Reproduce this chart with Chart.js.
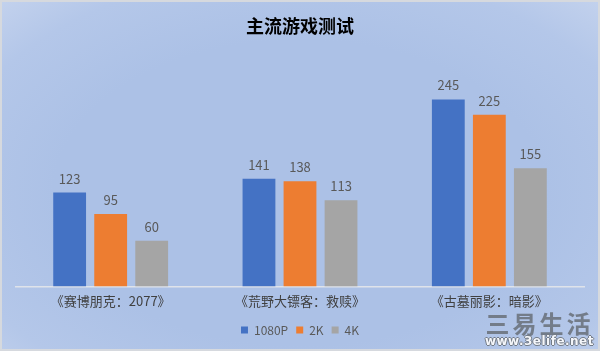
<!DOCTYPE html>
<html>
<head>
<meta charset="utf-8">
<script src="https://cdn.jsdelivr.net/npm/chart.js@4"></script>
<style>
  html, body { margin: 0; padding: 0; }
  #wrap {
    position: relative;
    width: 600px; height: 351px;
    box-sizing: border-box;
    border: 2px solid #d6d9de;
    background: radial-gradient(ellipse 75% 80% at 50% 55%, #acc1e6 55%, #b4c7e9 80%, #c6d4ee 100%);
  }
  #mark {
    position: absolute; right: 4px; bottom: 1px;
    text-align: center; font-family: "DejaVu Sans", sans-serif;
  }
  #mark .cn { font-family: "Noto Sans CJK SC"; font-size: 24px; font-weight: bold; color: #737c89; letter-spacing: 3px; line-height: 24px; }
  #mark .en { font-size: 12px; font-weight: bold; color: #f4f6fa; line-height: 13px; letter-spacing: 0.5px;
    text-shadow: -1px 0 #737b86, 1px 0 #737b86, 0 -1px #737b86, 0 1px #737b86; }
</style>
</head>
<body>
<div id="wrap">
  <canvas id="chart" width="596" height="347"></canvas>
  <div id="mark"><div class="cn">三易生活</div><div class="en">www.3elife.net</div></div>
</div>
<script>
// chart data
var games = ['《赛博朋克：2077》', '《荒野大镖客：救赎》', '《古墓丽影：暗影》'];
var fps1080p = [123, 141, 245];
var fps2k = [95, 138, 225];
var fps4k = [60, 113, 155];
var seriesNames = ['1080P', '2K', '4K'];
var seriesColors = ['#4472C4', '#ED7D31', '#A5A5A5'];

var font = '"Noto Sans CJK SC", "Noto Sans", sans-serif';

// value labels above each bar
var barLabels = {
  id: 'barLabels',
  afterDatasetsDraw: function(chart) {
    var ctx = chart.ctx;
    ctx.save();
    ctx.font = '13px ' + font;
    ctx.fillStyle = '#595959';
    ctx.textAlign = 'center';
    ctx.textBaseline = 'middle';
    chart.data.datasets.forEach(function(ds, i) {
      chart.getDatasetMeta(i).data.forEach(function(bar, j) {
        ctx.fillText(ds.data[j], bar.x, bar.y - 14);
      });
    });
    ctx.restore();
  }
};

var allSeries = [fps1080p, fps2k, fps4k];

new Chart(document.getElementById('chart'), {
  type: 'bar',
  data: {
    labels: games,
    datasets: allSeries.map(function(vals, i) {
      return {
        label: seriesNames[i],
        data: vals,
        backgroundColor: seriesColors[i],
        categoryPercentage: 0.65,
        barPercentage: 0.8
      };
    })
  },
  options: {
    responsive: false,
    animation: false,
    layout: { padding: { left: 14, right: 14, bottom: 3 } },
    scales: {
      x: {
        grid: { display: false, drawTicks: false },
        border: { display: true, color: '#dfe3ea', width: 1.5 },
        ticks: { color: '#404040', font: { family: font, size: 13 }, padding: 7 }
      },
      y: { display: false, min: 0, max: 300 }
    },
    plugins: {
      title: {
        display: true,
        text: '主流游戏测试',
        color: '#000',
        font: { family: font, size: 18, weight: 'bold' },
        padding: { top: 13, bottom: 21 }
      },
      legend: {
        position: 'bottom',
        labels: {
          color: '#595959',
          font: { family: font, size: 12 },
          boxWidth: 7, boxHeight: 7,
          padding: 8
        }
      },
      tooltip: { enabled: false }
    }
  },
  plugins: [barLabels]
});
</script>
</body>
</html>
